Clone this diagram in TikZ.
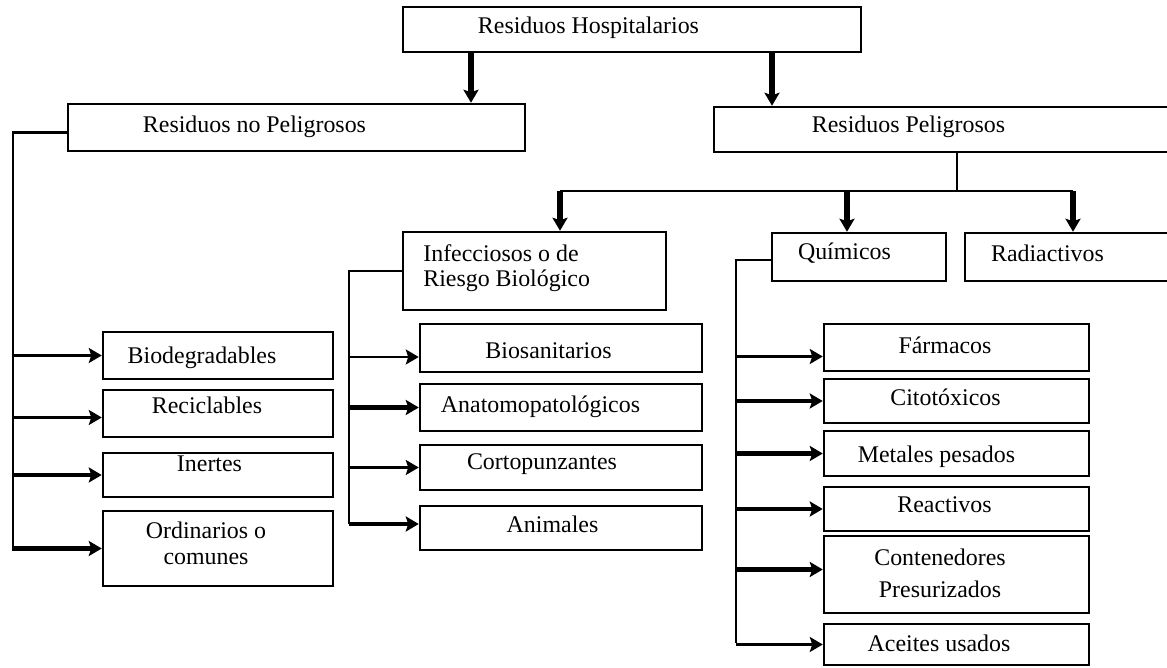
\documentclass[tikz,border=0pt]{standalone}
\usepackage{fontspec}
\setmainfont{Liberation Serif}
\usetikzlibrary{arrows.meta,calc}
\newcommand{\ux}{0.02cm}
\tikzset{>={Stealth[length=0.26cm,width=0.3cm,inset=0.05cm]}}
\tikzset{
  box/.style={draw, line width=1.4pt, inner sep=0pt},
  txt/.style={inner sep=0pt, font=\fontsize{13.6}{15}\selectfont, align=center},
  conn/.style={line width=1.3pt},
  thinarr/.style={line width=1.3pt, ->},
  thickarr/.style={line width=2.5pt, ->},
  bigarr/.style={line width=3pt, ->}
}

\begin{document}
\begin{tikzpicture}[x=0.02cm, y=-0.02cm]
          \useasboundingbox (0,0) rectangle (1167,668);

          % Top levels
          \node[box, minimum width=458*\ux, minimum height=45*\ux] (hosp) at (632,29.5) {};
          \node[box, minimum width=457*\ux, minimum height=47*\ux] (nopel) at (296.5,127.5) {};
          \node[box, minimum width=486*\ux, minimum height=45*\ux] (pel) at (957,129.5) {};
          \node[txt] (hospT) at (588.5,28) {Residuos Hospitalarios};
          \node[txt] (nopelT) at (254.5,127) {Residuos no Peligrosos};
          \node[txt] (pelT) at (908.5,127) {Residuos Peligrosos};

          % Peligrosos
          \node[box, minimum width=263*\ux, minimum height=78*\ux] (inf) at (534.5,271) {};
          \node[box, minimum width=174*\ux, minimum height=48*\ux] (quim) at (859,257) {};
          \node[box, minimum width=220*\ux, minimum height=48*\ux] (rad) at (1075,257) {};
          \node[txt, align=left, anchor=west] (infT) at (423,268) {Infecciosos o de\\[-1pt]Riesgo Biológico};
          \node[txt] (quimT) at (844.5,253) {Químicos};
          \node[txt] (radT) at (1047.5,253) {Radiactivos};

          % No peligrosos
          \node[box, minimum width=230*\ux, minimum height=47*\ux] (biodeg) at (218,355.5) {};
          \node[box, minimum width=230*\ux, minimum height=47*\ux] (recic) at (218,413.5) {};
          \node[box, minimum width=230*\ux, minimum height=44*\ux] (inert) at (218,475) {};
          \node[box, minimum width=230*\ux, minimum height=75*\ux] (ordin) at (218,548.5) {};
          \node[txt] (biodegT) at (202,358) {Biodegradables};
          \node[txt] (recicT) at (207,405) {Reciclables};
          \node[txt] (inertT) at (209.5,464) {Inertes};
          \node[txt] (ordinT) at (206,543.5) {Ordinarios o\\comunes};

          % Infecciosos
          \node[box, minimum width=282*\ux, minimum height=48*\ux] (biosan) at (561,348) {};
          \node[box, minimum width=282*\ux, minimum height=47*\ux] (anato) at (561,407.5) {};
          \node[box, minimum width=282*\ux, minimum height=45*\ux] (corto) at (561,467.5) {};
          \node[box, minimum width=282*\ux, minimum height=44*\ux] (anim) at (561,528) {};
          \node[txt] (biosanT) at (548.5,351) {Biosanitarios};
          \node[txt] (anatoT) at (540.5,407) {Anatomopatológicos};
          \node[txt] (cortoT) at (542,464) {Cortopunzantes};
          \node[txt] (animT) at (552.5,524) {Animales};

          % Quimicos
          \node[box, minimum width=265*\ux, minimum height=47*\ux] (farm) at (956.5,347.5) {};
          \node[box, minimum width=265*\ux, minimum height=44*\ux] (cito) at (956.5,401) {};
          \node[box, minimum width=265*\ux, minimum height=45*\ux] (metal) at (956.5,453.5) {};
          \node[box, minimum width=265*\ux, minimum height=44*\ux] (react) at (956.5,509) {};
          \node[box, minimum width=265*\ux, minimum height=77*\ux] (conten) at (956.5,574.5) {};
          \node[box, minimum width=265*\ux, minimum height=41*\ux] (aceit) at (956.5,644.5) {};
          \node[txt] (farmT) at (945,345) {Fármacos};
          \node[txt] (citoT) at (945.5,397) {Citotóxicos};
          \node[txt] (metalT) at (936.5,457) {Metales pesados};
          \node[txt] (reactT) at (944.5,505) {Reactivos};
          \node[txt] (contenT) at (940,573.5) {Contenedores\\[3.5pt]Presurizados};
          \node[txt] (aceitT) at (939,643) {Aceites usados};

          % Connectors
          \coordinate (npX) at (471,0);
          \coordinate (pX) at (772,0);
          \draw[bigarr] (hosp.south -| npX) -- (nopel.north -| npX);
          \draw[bigarr] (hosp.south -| pX) -- (pel.north -| pX);

          \coordinate (busL) at (560,191);
          \coordinate (busQ) at (847,191);
          \coordinate (busR) at (1073,191);
          \draw[conn] (pel.south) -- (pel.south |- busL);
          \draw[conn] (busL) -- (busR);
          \draw[bigarr] (busL) -- (busL |- inf.north);
          \draw[bigarr] (busQ) -- (busQ |- quim.north);
          \draw[bigarr] (busR) -- (busR |- rad.north);

          \coordinate (npBus) at (13,551);
          \draw[conn] ($(nopel.west)+(0,5)$) -| (npBus);
          \draw[thinarr] (npBus |- biodeg.west) -- (biodeg.west);
          \draw[thinarr] ($(npBus |- recic.west)+(0,4)$) -- ($(recic.west)+(0,4)$);
          \draw[thickarr] (npBus |- inert.west) -- (inert.west);
          \draw[thickarr] (npBus |- ordin.west) -- (ordin.west);

          \coordinate (infBus) at (349,524);
          \draw[conn] (inf.west) -| (infBus);
          \draw[thinarr] ($(infBus |- biosan.west)+(0,9)$) -- ($(biosan.west)+(0,9)$);
          \draw[thickarr] (infBus |- anato.west) -- (anato.west);
          \draw[thinarr] (infBus |- corto.west) -- (corto.west);
          \draw[thickarr] ($(infBus |- anim.west)+(0,-4)$) -- ($(anim.west)+(0,-4)$);

          \coordinate (qBus) at (736,643);
          \draw[conn] ($(quim.west)+(0,3)$) -| (qBus);
          \draw[thinarr] ($(qBus |- farm.west)+(0,9)$) -- ($(farm.west)+(0,9)$);
          \draw[thickarr] (qBus |- cito.west) -- (cito.west);
          \draw[thickarr] (qBus |- metal.west) -- (metal.west);
          \draw[thickarr] (qBus |- react.west) -- (react.west);
          \draw[thickarr] ($(qBus |- conten.west)+(0,-5)$) -- ($(conten.west)+(0,-5)$);
          \draw[thinarr] (qBus |- aceit.west) -- (aceit.west);

        \end{tikzpicture}
\end{document}
